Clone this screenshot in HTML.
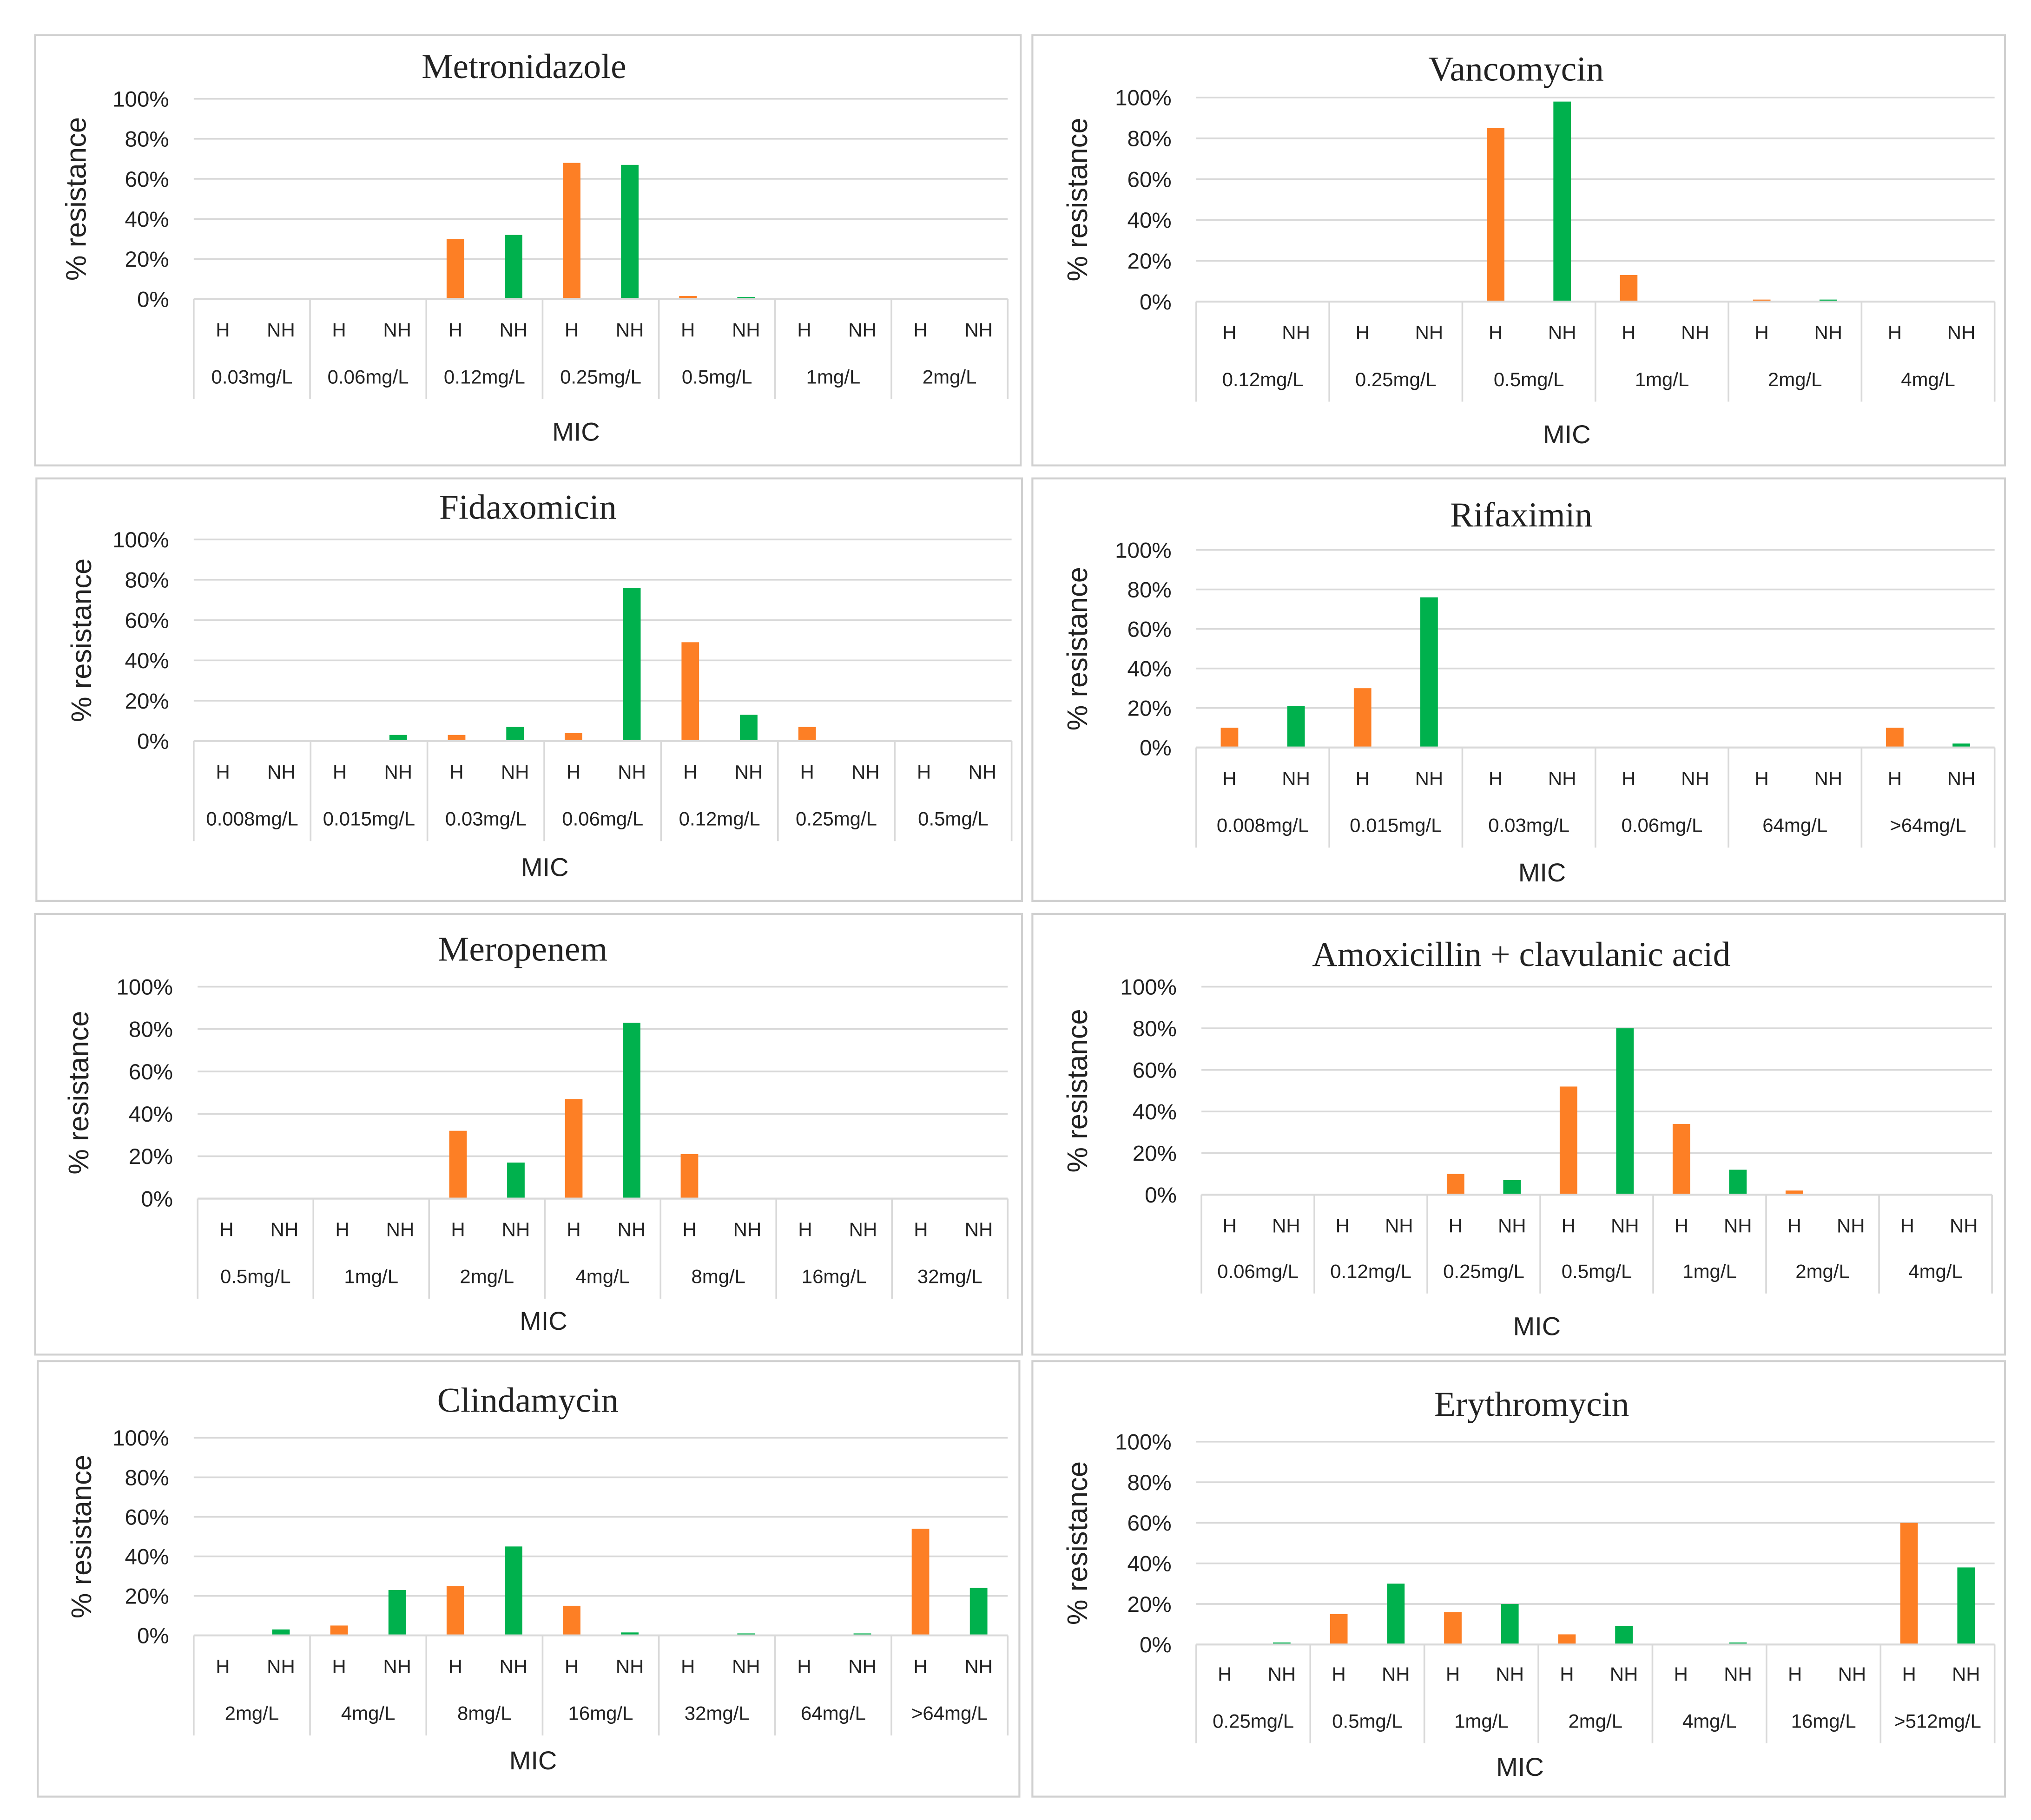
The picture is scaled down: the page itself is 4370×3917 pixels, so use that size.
<!DOCTYPE html>
<html><head><meta charset="utf-8">
<style>
html,body{margin:0;padding:0;background:#fff;}
svg{display:block;}
text{font-family:"Liberation Sans",sans-serif;fill:#222;}
.ttl{font-family:"Liberation Serif",serif;font-size:27px;}
</style></head>
<body>
<svg id="chart" width="4370" height="3917" viewBox="0 0 1562 1400" preserveAspectRatio="none" xmlns="http://www.w3.org/2000/svg"></svg>
<script>
const metroCats=["0.03mg/L","0.06mg/L","0.12mg/L","0.25mg/L","0.5mg/L","1mg/L","2mg/L"];
const metroH=[0,0,30,68,1.5,0,0];
const metroNH=[0,0,32,67,1,0,0];
const vancoCats=["0.12mg/L","0.25mg/L","0.5mg/L","1mg/L","2mg/L","4mg/L"];
const vancoH=[0,0,85,13,1,0];
const vancoNH=[0,0,98,0,1,0];
const fidaxCats=["0.008mg/L","0.015mg/L","0.03mg/L","0.06mg/L","0.12mg/L","0.25mg/L","0.5mg/L"];
const fidaxH=[0,0,3,4,49,7,0];
const fidaxNH=[0,3,7,76,13,0,0];
const rifaxCats=["0.008mg/L","0.015mg/L","0.03mg/L","0.06mg/L","64mg/L",">64mg/L"];
const rifaxH=[10,30,0,0,0,10];
const rifaxNH=[21,76,0,0,0,2];
const meroCats=["0.5mg/L","1mg/L","2mg/L","4mg/L","8mg/L","16mg/L","32mg/L"];
const meroH=[0,0,32,47,21,0,0];
const meroNH=[0,0,17,83,0,0,0];
const amoxCats=["0.06mg/L","0.12mg/L","0.25mg/L","0.5mg/L","1mg/L","2mg/L","4mg/L"];
const amoxH=[0,0,10,52,34,2,0];
const amoxNH=[0,0,7,80,12,0,0];
const clindaCats=["2mg/L","4mg/L","8mg/L","16mg/L","32mg/L","64mg/L",">64mg/L"];
const clindaH=[0,5,25,15,0,0,54];
const clindaNH=[3,23,45,1.5,1,1,24];
const eryCats=["0.25mg/L","0.5mg/L","1mg/L","2mg/L","4mg/L","16mg/L",">512mg/L"];
const eryH=[0,15,16,5,0,0,60];
const eryNH=[1,30,20,9,1,0,38];
const yTicks=["0%","20%","40%","60%","80%","100%"];

const panels=[
 {name:"metronidazole",title:"Metronidazole",cats:metroCats,h:metroH,nh:metroNH,box:[27,27,758,331],tx:403,ty:60,x0:149,x1:775,y100:76,y0:230,hy:259,ly:295,mx:443,my:339,yx:58},
 {name:"vancomycin",title:"Vancomycin",cats:vancoCats,h:vancoH,nh:vancoNH,box:[794,27,748,331],tx:1166,ty:62,x0:920,x1:1534,y100:75,y0:232,hy:261,ly:297,mx:1205,my:341,yx:828},
 {name:"fidaxomicin",title:"Fidaxomicin",cats:fidaxCats,h:fidaxH,nh:fidaxNH,box:[28,368,758,325],tx:406,ty:399,x0:149,x1:778,y100:415,y0:570,hy:599,ly:635,mx:419,my:674,yx:62},
 {name:"rifaximin",title:"Rifaximin",cats:rifaxCats,h:rifaxH,nh:rifaxNH,box:[794,368,748,325],tx:1170,ty:405,x0:920,x1:1534,y100:423,y0:575,hy:604,ly:640,mx:1186,my:678,yx:828},
 {name:"meropenem",title:"Meropenem",cats:meroCats,h:meroH,nh:meroNH,box:[27,703,759,339],tx:402,ty:739,x0:152,x1:775,y100:759,y0:922,hy:951,ly:987,mx:418,my:1023,yx:60},
 {name:"amoxicillin-clavulanic",title:"Amoxicillin + clavulanic acid",cats:amoxCats,h:amoxH,nh:amoxNH,box:[794,703,748,339],tx:1170,ty:743,x0:924,x1:1532,y100:759,y0:919,hy:948,ly:983,mx:1182,my:1027,yx:828},
 {name:"clindamycin",title:"Clindamycin",cats:clindaCats,h:clindaH,nh:clindaNH,box:[29,1047,755,335],tx:406,ty:1086,x0:149,x1:775,y100:1106,y0:1258,hy:1287,ly:1323,mx:410,my:1361,yx:62},
 {name:"erythromycin",title:"Erythromycin",cats:eryCats,h:eryH,nh:eryNH,box:[794,1047,748,335],tx:1178,ty:1089,x0:920,x1:1534,y100:1109,y0:1265,hy:1293,ly:1329,mx:1169,my:1366,yx:828}
];
const NS="http://www.w3.org/2000/svg";
const svg=document.getElementById("chart");
function mk(tag,attrs,parent,txt){const e=document.createElementNS(NS,tag);for(const k in attrs)e.setAttribute(k,attrs[k]);if(txt!==undefined)e.textContent=txt;parent.appendChild(e);return e;}

panels.forEach(p=>{
 const g=mk("g",{},svg);
 
 
 const b=mk("rect",{x:p.box[0],y:p.box[1],width:p.box[2],height:p.box[3],fill:"#fff",stroke:"#d0d0d0","stroke-width":1.5},g);
 
 
 const yScale=v=>p.y0-(v/100)*(p.y0-p.y100);
 yTicks.forEach((t,i)=>{
  const v=i*20,y=yScale(v);
  const l=mk("line",{x1:p.x0,x2:p.x1,y1:y,y2:y,stroke:"#d9d9d9","stroke-width":1.3},g);
  
  
  const tt=mk("text",{x:p.x0-19,y:y+6,"text-anchor":"end","font-size":17},g,t);
  
  
 });
 const n=p.cats.length,gw=(p.x1-p.x0)/n,bw=13.5;
 const xCenter=i=>p.x0+gw*(i+0.5);
 for(let i=0;i<=n;i++){
  const x=p.x0+gw*i;
  const l=mk("line",{x1:x,x2:x,y1:p.y0,y2:p.ly+12,stroke:"#d9d9d9","stroke-width":1.3},g);
  
  
 }
 p.cats.forEach((c,i)=>{
  const cx=xCenter(i);
  const hx=cx-gw/4,nx=cx+gw/4;
  const bh=mk("rect",{x:hx-bw/2,y:yScale(p.h[i]),width:bw,height:p.y0-yScale(p.h[i]),fill:"#fd7f25"},g);
  
  
  const bn=mk("rect",{x:nx-bw/2,y:yScale(p.nh[i]),width:bw,height:p.y0-yScale(p.nh[i]),fill:"#00b14d"},g);
  
  
  const t1=mk("text",{x:hx,y:p.hy,"text-anchor":"middle","font-size":15},g,"H");
  
  
  const t2=mk("text",{x:nx,y:p.hy,"text-anchor":"middle","font-size":15},g,"NH");
  
  
  const t3=mk("text",{x:cx,y:p.ly,"text-anchor":"middle","font-size":15},g,c);
  
  
 });
 const base=mk("line",{x1:p.x0,x2:p.x1,y1:p.y0,y2:p.y0,stroke:"#d9d9d9","stroke-width":1.5},g);
 
 
 const ti=mk("text",{x:p.tx,y:p.ty,"text-anchor":"middle","class":"ttl"},g,p.title);
 
 
 const mx=mk("text",{x:p.mx,y:p.my,"text-anchor":"middle","font-size":20},g,"MIC");
 
 
 const yc=(p.y0+p.y100)/2;
 const yt=mk("text",{x:p.yx,y:yc,"text-anchor":"middle","font-size":22,transform:`rotate(-90 ${p.yx} ${yc})`,dy:8},g,"% resistance");
 
 
});
</script>
</body></html>
